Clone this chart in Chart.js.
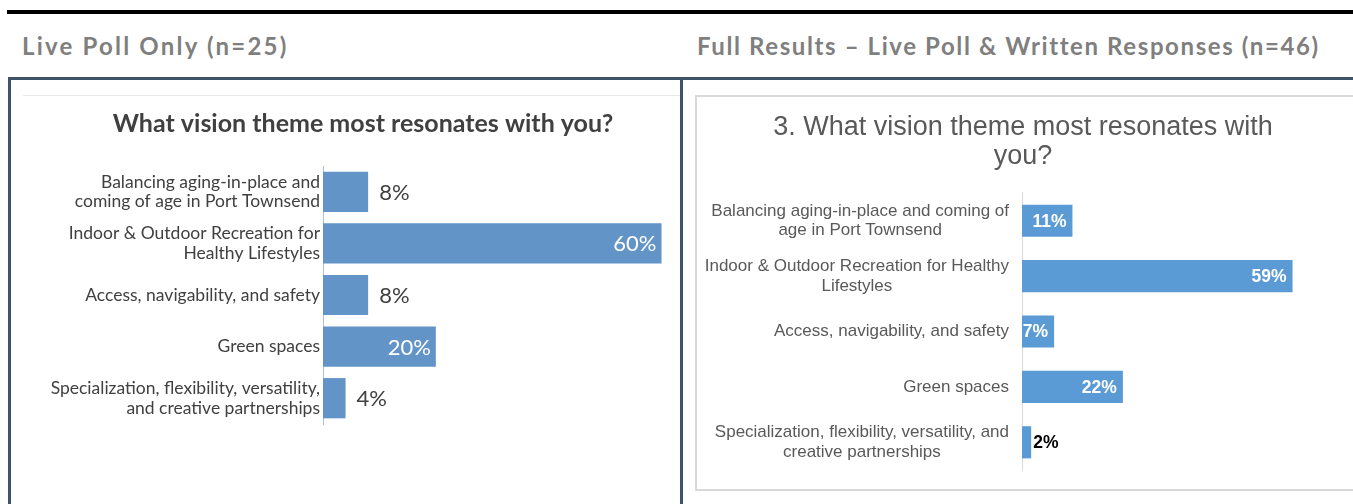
<!DOCTYPE html>
<html>
<head>
<meta charset="utf-8">
<script src="https://cdn.jsdelivr.net/npm/chart.js@4.4.1/dist/chart.umd.min.js"></script>
<style>
body { margin: 0; background: #fff; width: 1353px; height: 504px; overflow: hidden; position: relative; }
.abs { position: absolute; }
.rule { left: 7px; top: 10px; width: 1346px; height: 4px; background: #000; }
.head { top: 32px; font: 700 24px Lato, sans-serif; letter-spacing: 1.6px; color: #7f7f7f; white-space: nowrap; line-height: 28px; }
.frame { background: #3f5468; }
.innerbox { left: 695px; top: 95px; width: 670px; height: 396px; border: 2px solid #d9d9d9; box-sizing: border-box; }
</style>
</head>
<body>
<div class="abs rule"></div>
<div class="abs head" style="left:22px;letter-spacing:2.2px">Live Poll Only (n=25)</div>
<div class="abs head" style="left:697px">Full Results – Live Poll &amp; Written Responses (n=46)</div>

<div class="abs frame" style="left:8px;top:77px;width:1345px;height:3px"></div>
<div class="abs frame" style="left:8px;top:77px;width:3px;height:427px"></div>
<div class="abs frame" style="left:680px;top:77px;width:3px;height:427px"></div>
<div class="abs" style="left:23px;top:95px;width:657px;height:1px;background:#e8e8e8"></div>
<div class="abs innerbox"></div>

<canvas id="leftChart" class="abs" style="left:23px;top:96px" width="680" height="408"></canvas>
<canvas id="rightChart" class="abs" style="left:697px;top:97px" width="655" height="392"></canvas>

<script>
// live poll only (n=25)
var leftLabels = [
  ['Balancing aging-in-place and', 'coming of age in Port Townsend'],
  ['Indoor & Outdoor Recreation for', 'Healthy Lifestyles'],
  'Access, navigability, and safety',
  'Green spaces',
  ['Specialization, flexibility, versatility,', 'and creative partnerships']
];
var leftValues = [8, 60, 8, 20, 4];

// full results (n=46)
var rightLabels = [
  ['Balancing aging-in-place and coming of', 'age in Port Townsend'],
  ['Indoor & Outdoor Recreation for Healthy', 'Lifestyles'],
  'Access, navigability, and safety',
  'Green spaces',
  ['Specialization, flexibility, versatility, and', 'creative partnerships']
];
var rightValues = [11, 59, 7, 22, 2];

// percent labels at the end of each bar
var barLabels = {
  id: 'barLabels',
  afterDatasetsDraw: function(chart, args, opts) {
    var ctx = chart.ctx;
    var values = chart.data.datasets[0].data;
    ctx.save();
    ctx.font = opts.font;
    ctx.textBaseline = 'middle';
    chart.getDatasetMeta(0).data.forEach(function(bar, i) {
      var txt = values[i] + '%';
      if (values[i] >= opts.insideMin) {
        ctx.fillStyle = opts.insideColor;
        ctx.textAlign = 'right';
        ctx.fillText(txt, bar.x - opts.inset, bar.y + opts.dy);
      } else {
        ctx.fillStyle = opts.outsideColor;
        ctx.textAlign = 'left';
        ctx.fillText(txt, bar.x + opts.gap, bar.y + opts.dy);
      }
    });
    ctx.restore();
  }
};

// excel style category labels: block right aligned, lines centred
var centeredTicks = {
  id: 'centeredTicks',
  afterDraw: function(chart, args, opts) {
    var scale = chart.scales.y;
    var ctx = chart.ctx;
    ctx.save();
    ctx.font = opts.font;
    ctx.fillStyle = opts.color;
    ctx.textAlign = 'center';
    ctx.textBaseline = 'middle';
    chart.data.labels.forEach(function(lab, i) {
      var lines = [].concat(lab);
      var w = Math.max.apply(null, lines.map(function(l) { return ctx.measureText(l).width; }));
      var cx = scale.right - opts.gap - w / 2;
      var y0 = scale.getPixelForTick(i) - (lines.length - 1) * opts.lineHeight / 2;
      lines.forEach(function(l, j) { ctx.fillText(l, cx, y0 + j * opts.lineHeight); });
    });
    ctx.restore();
  }
};

new Chart(document.getElementById('leftChart'), {
  type: 'bar',
  data: {
    labels: leftLabels,
    datasets: [{
      data: leftValues,
      backgroundColor: '#6394c7',
      barPercentage: 0.78,
      categoryPercentage: 1
    }]
  },
  options: {
    indexAxis: 'y',
    responsive: false,
    animation: false,
    layout: { padding: { left: 2, right: 2, top: 0, bottom: 80 } },
    scales: {
      // canvas runs a bit past the divider so the title centres like the original
      x: { display: false, min: 0, max: 67 },
      y: {
        afterFit: function(s) { s.width = 298; },
        grid: { display: false, drawTicks: false },
        border: { display: true, color: '#a4c0e2', width: 1 },
        ticks: { font: { family: 'Lato', size: 17.5, lineHeight: 1.12 }, color: '#404040', padding: 3, autoSkip: false }
      }
    },
    plugins: {
      legend: { display: false },
      tooltip: { enabled: false },
      title: {
        display: true,
        text: 'What vision theme most resonates with you?',
        font: { family: 'Lato', size: 25, weight: 'bold' },
        color: '#404040',
        padding: { top: 13, bottom: 27 }
      },
      barLabels: { font: '22px Lato', insideMin: 15, inset: 5, gap: 11, dy: 1, insideColor: '#ffffff', outsideColor: '#404040' }
    }
  },
  plugins: [barLabels]
});

new Chart(document.getElementById('rightChart'), {
  type: 'bar',
  data: {
    labels: rightLabels,
    datasets: [{
      data: rightValues,
      backgroundColor: '#5b9bd5',
      barPercentage: 0.58,
      categoryPercentage: 1
    }]
  },
  options: {
    indexAxis: 'y',
    responsive: false,
    animation: false,
    layout: { padding: { left: 6, right: 9, top: 0, bottom: 19 } },
    scales: {
      x: { display: false, min: 0, max: 70 },
      y: {
        afterFit: function(s) { s.width = 319; },
        grid: { display: false, drawTicks: false },
        border: { display: true, color: '#d9d9d9', width: 1 },
        ticks: { display: false }
      }
    },
    plugins: {
      legend: { display: false },
      tooltip: { enabled: false },
      title: {
        display: true,
        text: ['3. What vision theme most resonates with', 'you?'],
        font: { family: 'Liberation Sans', size: 27, weight: 'normal', lineHeight: 1.074 },
        color: '#595959',
        padding: { top: 16, bottom: 22 }
      },
      centeredTicks: { font: '17px "Liberation Sans"', color: '#595959', gap: 13, lineHeight: 19.5 },
      barLabels: { font: 'bold 17.5px "Liberation Sans"', insideMin: 5, inset: 6, gap: 2, dy: 1, insideColor: '#ffffff', outsideColor: '#000000' }
    }
  },
  plugins: [barLabels, centeredTicks]
});
</script>
</body>
</html>
